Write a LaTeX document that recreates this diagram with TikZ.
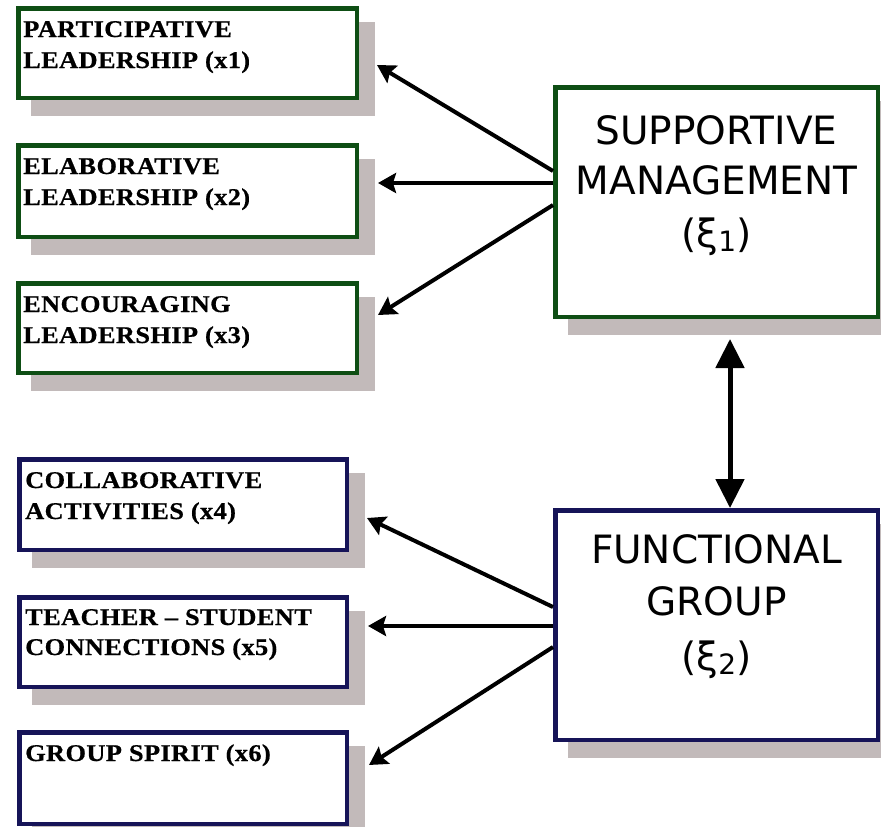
\documentclass[tikz,border=0pt]{standalone}
\usepackage{fontspec}
\setmainfont{Liberation Serif}
\newfontfamily\indfont[FakeStretch=1.1,LetterSpace=1.5,FakeBold=0.6]{Liberation Serif}
\newfontfamily\factorfont{DejaVu Sans}
\usetikzlibrary{arrows.meta,calc,backgrounds}

\definecolor{boxgreen}{RGB}{14,78,20}
\definecolor{boxnavy}{RGB}{22,20,88}
\definecolor{shadowgray}{RGB}{194,186,186}

\tikzset{
  box/.style={draw=#1, line width=4.5pt, fill=white, inner sep=0pt, anchor=north west},
  smallbox/.style={box=#1, minimum width=338.5pt, minimum height=89.5pt},
  midbox/.style={box=#1, minimum width=327.5pt, minimum height=90.5pt},
  bigbox/.style={box=#1, minimum width=322.5pt, minimum height=229.5pt},
  indtext/.style={anchor=base west, inner sep=0pt, font=\indfont\bfseries\fontsize{24}{24}\selectfont},
  factortext/.style={anchor=base, inner sep=0pt, font=\fontsize{39}{39}\factorfont},
  loading/.style={line width=4pt, -{Stealth[length=18pt,width=20pt,inset=3pt]}},
  covar/.style={line width=5pt, {Triangle[length=29pt,width=28pt]}-{Triangle[length=29pt,width=28pt]}},
}
\newcommand{\dropshadow}[1]{\fill[shadowgray] ($(#1.north west)+(15,16)$) rectangle ($(#1.south east)+(16,16)$);}

\begin{document}
\begin{tikzpicture}[x=1pt,y=-1pt]
\clip (0,0) rectangle (881,827);

% indicators of supportive management
\node[smallbox=boxgreen] (b1) at (16,6) {};
\node[midbox=boxgreen, minimum width=338.5pt, minimum height=91.5pt] (b2) at (16,143) {};
\node[smallbox=boxgreen] (b3) at (16,281) {};

% indicators of functional group
\node[midbox=boxnavy] (b4) at (17,457) {};
\node[midbox=boxnavy, minimum height=89.5pt] (b5) at (17,595) {};
\node[midbox=boxnavy, minimum height=91.5pt] (b6) at (17,730) {};

% latent factors
\node[bigbox=boxgreen] (f1) at (553,85) {};
\node[bigbox=boxnavy] (f2) at (553,508) {};

\begin{scope}[on background layer]
  \dropshadow{b1}\dropshadow{b2}\dropshadow{b3}
  \dropshadow{b4}\dropshadow{b5}\dropshadow{b6}
  \dropshadow{f1}\dropshadow{f2}
\end{scope}

% indicator labels
\node[indtext] (t1a) at (23,37) {PARTICIPATIVE};
\node[indtext] (t1b) at (23,68) {LEADERSHIP (x1)};
\node[indtext] (t2a) at (23,174) {ELABORATIVE};
\node[indtext] (t2b) at (23,205) {LEADERSHIP (x2)};
\node[indtext] (t3a) at (23,312) {ENCOURAGING};
\node[indtext] (t3b) at (23,343) {LEADERSHIP (x3)};
\node[indtext] (t4a) at (25,488) {COLLABORATIVE};
\node[indtext] (t4b) at (25,519) {ACTIVITIES (x4)};
\node[indtext] (t5a) at (25,625) {TEACHER – STUDENT};
\node[indtext] (t5b) at (25,655) {CONNECTIONS (x5)};
\node[indtext] (t6a) at (25,761) {GROUP SPIRIT (x6)};

% factor labels
\node[factortext] (s1a) at (716.5,144) {SUPPORTIVE};
\node[factortext] (s1b) at (716.5,194) {MANAGEMENT};
\node[factortext] (s1c) at (716.5,247) {(ξ\raisebox{-4pt}{\fontsize{28}{28}\selectfont 1})};
\node[factortext] (s2a) at (716.5,563) {FUNCTIONAL};
\node[factortext] (s2b) at (716.5,615) {GROUP};
\node[factortext] (s2c) at (716.5,670) {(ξ\raisebox{-4pt}{\fontsize{28}{28}\selectfont 2})};

% loadings
\draw[loading] ([yshift=31pt]f1.west) -- ([xshift=18pt,yshift=-12pt]b1.east);
\draw[loading] ([yshift=19pt]f1.west) -- ([xshift=19pt,yshift=8pt]b2.east);
\draw[loading] ([yshift=-3pt]f1.west) -- ([xshift=19pt,yshift=13pt]b3.east);
\draw[loading] ([yshift=18pt]f2.west) -- ([xshift=18pt,yshift=-13.5pt]b4.east);
\draw[loading] ([yshift=-1pt]f2.west) -- ([xshift=19pt,yshift=16pt]b5.east);
\draw[loading] ([yshift=-22pt]f2.west) -- ([xshift=20pt,yshift=13pt]b6.east);

% factor covariance
\draw[covar] ([xshift=13.5pt,yshift=-20pt]f1.south) -- ([xshift=13.5pt]f2.north);
\end{tikzpicture}
\end{document}
